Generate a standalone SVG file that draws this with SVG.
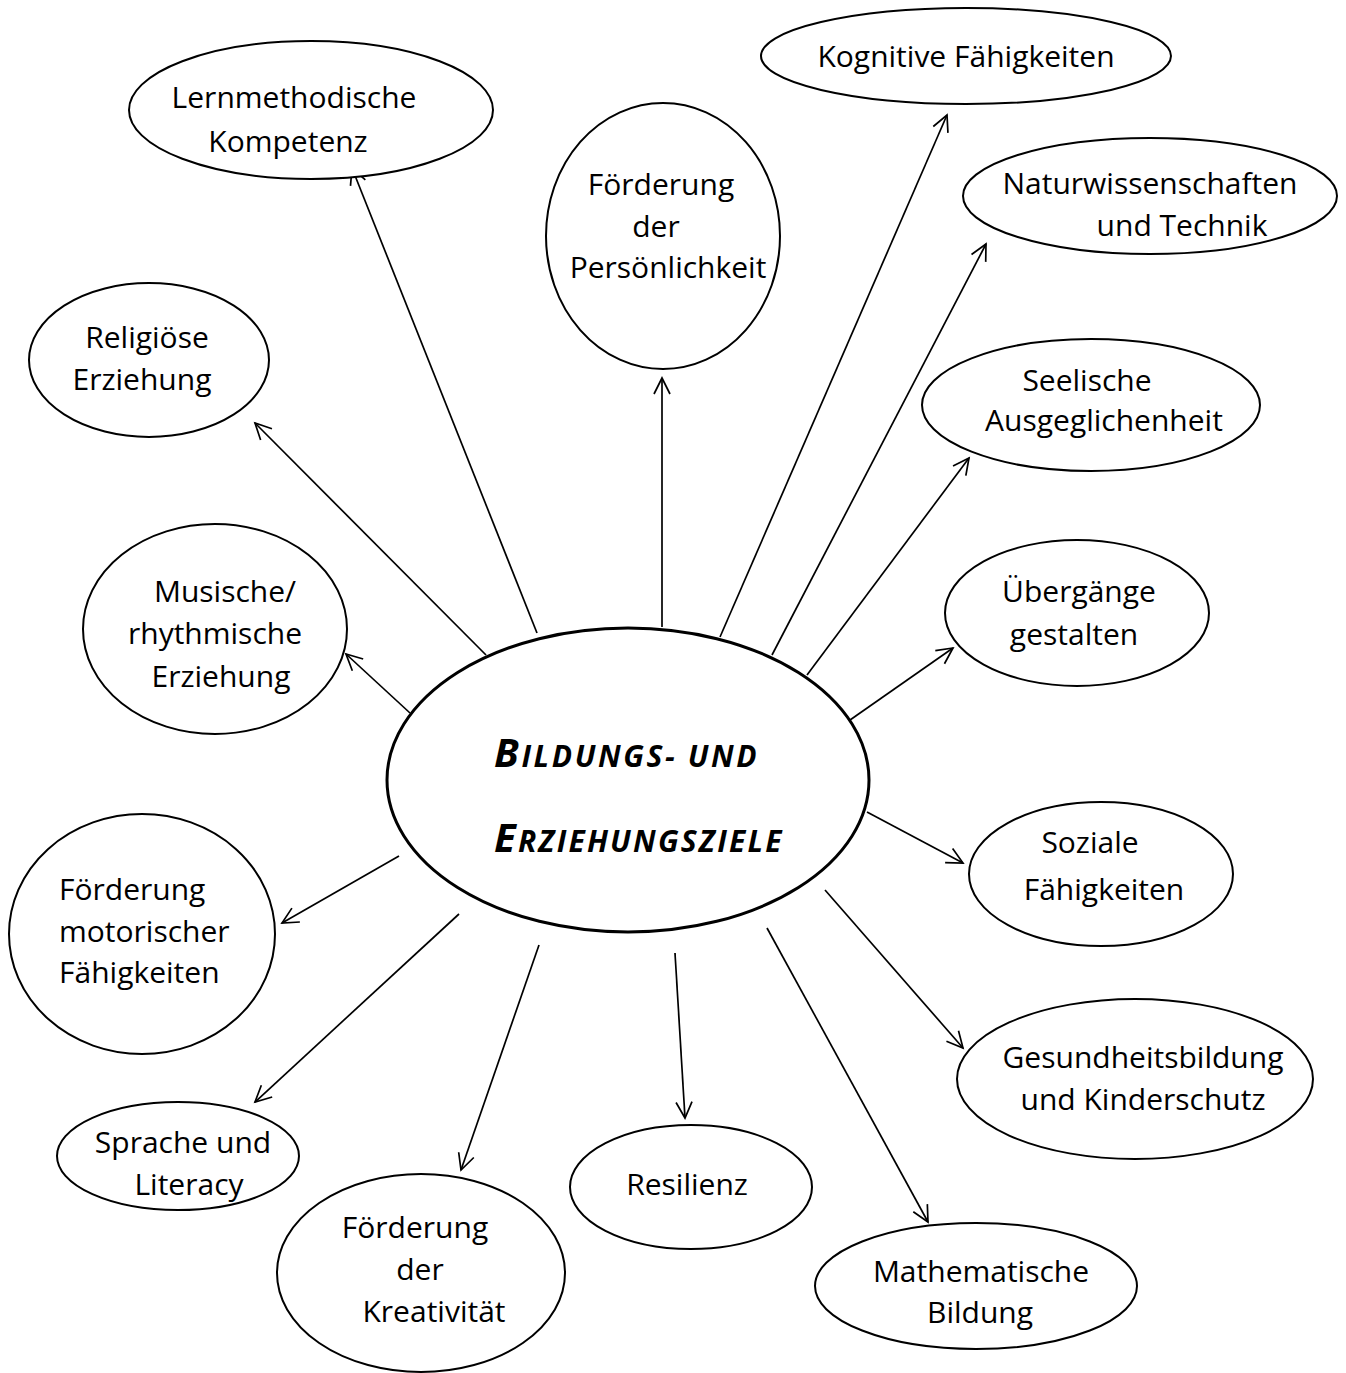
<svg xmlns="http://www.w3.org/2000/svg" width="1346" height="1373" viewBox="0 0 1346 1373">
<style>
.n ellipse{fill:#fff;stroke:#000;stroke-width:2}
.n text{font-family:"Open Sans","Liberation Sans",sans-serif;font-size:30px;fill:#000;text-anchor:middle}
.c line{stroke:#000;stroke-width:1.7;marker-end:url(#arr)}
.n text.t{font-family:"Open Sans","Liberation Sans",sans-serif;font-weight:bold;font-style:italic;fill:#000;text-anchor:start}
</style>
<defs>
<marker id="arr" markerUnits="userSpaceOnUse" markerWidth="22" markerHeight="22" viewBox="0 0 22 22" refX="19" refY="11" orient="auto">
<path d="M3 3 L19 11 L3 19" fill="none" stroke="#000" stroke-width="1.7"/>
</marker>
</defs>
<rect width="1346" height="1373" fill="#fff"/>
<g class="c" id="connectors">
<line x1="537" y1="633" x2="352" y2="168"/>
<line x1="662" y1="627" x2="662" y2="378"/>
<line x1="720" y1="637" x2="947" y2="115"/>
<line x1="772" y1="655" x2="986" y2="244"/>
<line x1="807" y1="675" x2="969" y2="458"/>
<line x1="850" y1="720" x2="953" y2="648"/>
<line x1="486" y1="655" x2="255" y2="423"/>
<line x1="410" y1="713" x2="346" y2="654"/>
<line x1="867" y1="812" x2="963" y2="863"/>
<line x1="825" y1="890" x2="963" y2="1048"/>
<line x1="767" y1="928" x2="928" y2="1222"/>
<line x1="675" y1="953" x2="685" y2="1118"/>
<line x1="539" y1="945" x2="461" y2="1170"/>
<line x1="459" y1="914" x2="255" y2="1102"/>
<line x1="399" y1="856" x2="282" y2="923"/>
</g>
<g class="n" id="center">
<ellipse cx="628" cy="780" rx="241" ry="152" style="stroke-width:3"/>
<text class="t" x="494" y="767" style="letter-spacing:2.6px"><tspan font-size="40">B</tspan><tspan font-size="30">ILDUNGS- UND</tspan></text>
<text class="t" x="494" y="852" style="letter-spacing:2.2px"><tspan font-size="40">E</tspan><tspan font-size="30">RZIEHUNGSZIELE</tspan></text>
</g>
<g class="n" id="lernmethodische">
<ellipse cx="311" cy="110" rx="182" ry="69"/>
<text x="294" y="108">Lernmethodische</text>
<text x="288" y="152">Kompetenz</text>
</g>
<g class="n" id="kognitive">
<ellipse cx="966" cy="56" rx="205" ry="48"/>
<text x="966" y="67">Kognitive Fähigkeiten</text>
</g>
<g class="n" id="persoenlichkeit">
<ellipse cx="663" cy="236" rx="117" ry="133"/>
<text x="661" y="195">Förderung</text>
<text x="656" y="237">der</text>
<text x="668" y="278">Persönlichkeit</text>
</g>
<g class="n" id="naturwissenschaften">
<ellipse cx="1150" cy="196" rx="187" ry="58"/>
<text x="1150" y="194">Naturwissenschaften</text>
<text x="1182" y="236">und Technik</text>
</g>
<g class="n" id="religioese">
<ellipse cx="149" cy="360" rx="120" ry="77"/>
<text x="147" y="348">Religiöse</text>
<text x="142" y="390">Erziehung</text>
</g>
<g class="n" id="seelische">
<ellipse cx="1091" cy="405" rx="169" ry="66"/>
<text x="1087" y="391">Seelische</text>
<text x="1104" y="431">Ausgeglichenheit</text>
</g>
<g class="n" id="musische">
<ellipse cx="215" cy="629" rx="132" ry="105"/>
<text x="225" y="602">Musische/</text>
<text x="215" y="644">rhythmische</text>
<text x="221" y="687">Erziehung</text>
</g>
<g class="n" id="uebergaenge">
<ellipse cx="1077" cy="613" rx="132" ry="73"/>
<text x="1079" y="602">Übergänge</text>
<text x="1074" y="645">gestalten</text>
</g>
<g class="n" id="soziale">
<ellipse cx="1101" cy="874" rx="132" ry="72"/>
<text x="1090" y="853">Soziale</text>
<text x="1104" y="900">Fähigkeiten</text>
</g>
<g class="n" id="motorisch">
<ellipse cx="142" cy="934" rx="133" ry="120"/>
<text x="59" y="900" style="text-anchor:start">Förderung</text>
<text x="59" y="942" style="text-anchor:start">motorischer</text>
<text x="59" y="983" style="text-anchor:start">Fähigkeiten</text>
</g>
<g class="n" id="gesundheit">
<ellipse cx="1135" cy="1079" rx="178" ry="80"/>
<text x="1143" y="1068">Gesundheitsbildung</text>
<text x="1143" y="1110">und Kinderschutz</text>
</g>
<g class="n" id="sprache">
<ellipse cx="178" cy="1156" rx="121" ry="54"/>
<text x="183" y="1153">Sprache und</text>
<text x="189" y="1195">Literacy</text>
</g>
<g class="n" id="resilienz">
<ellipse cx="691" cy="1187" rx="121" ry="62"/>
<text x="687" y="1195">Resilienz</text>
</g>
<g class="n" id="kreativitaet">
<ellipse cx="421" cy="1273" rx="144" ry="99"/>
<text x="415" y="1238">Förderung</text>
<text x="420" y="1280">der</text>
<text x="434" y="1322">Kreativität</text>
</g>
<g class="n" id="mathematische">
<ellipse cx="976" cy="1286" rx="161" ry="63"/>
<text x="981" y="1282">Mathematische</text>
<text x="980" y="1323">Bildung</text>
</g>
</svg>
